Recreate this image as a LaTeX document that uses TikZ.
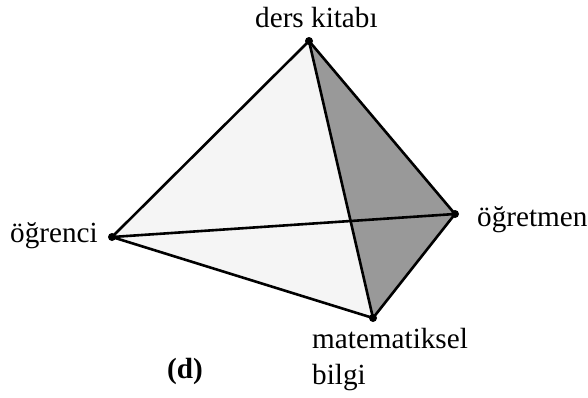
\documentclass[tikz,border=0pt]{standalone}
\usepackage{fontspec}
\setmainfont{Liberation Serif}
\definecolor{lightface}{gray}{0.96}
\definecolor{darkface}{gray}{0.6}
\tikzset{
 vertex/.style={circle,fill=black,inner sep=0pt,minimum size=8pt},
 edge/.style={line width=2.6pt,black,line cap=round},
 lab/.style={font=\fontsize{29.2}{31}\selectfont,inner sep=0pt,anchor=base west,text=black}
}
\begin{document}
\begin{tikzpicture}[x=1pt,y=-1pt]
\useasboundingbox (0,0) rectangle (588,397);
\coordinate (T) at (309,41);
\coordinate (L) at (112,237);
\coordinate (R) at (455,214);
\coordinate (B) at (373,318);
\fill[lightface] (T)--(L)--(B)--cycle;
\fill[darkface] (T)--(R)--(B)--cycle;
\draw[edge] (T)--(L);
\draw[edge] (T)--(R);
\draw[edge] (T)--(B);
\draw[edge] (L)--(R);
\draw[edge] (L)--(B);
\draw[edge] (R)--(B);
\node[vertex] (vT) at (T) {};
\node[vertex] (vL) at (L) {};
\node[vertex] (vR) at (R) {};
\node[vertex] (vB) at (B) {};
\node[lab] (t1) at (255,27) {ders kitabı};
\node[lab] (t2) at (10,242) {öğrenci};
\node[lab] (t3) at (477,226) {öğretmen};
\node[lab] (t4) at (312,348) {matematiksel};
\node[lab] (t5) at (312,384) {bilgi};
\node[lab,font=\fontsize{29.2}{31}\selectfont\bfseries] (t6) at (167,378) {(d)};
\end{tikzpicture}
\end{document}
